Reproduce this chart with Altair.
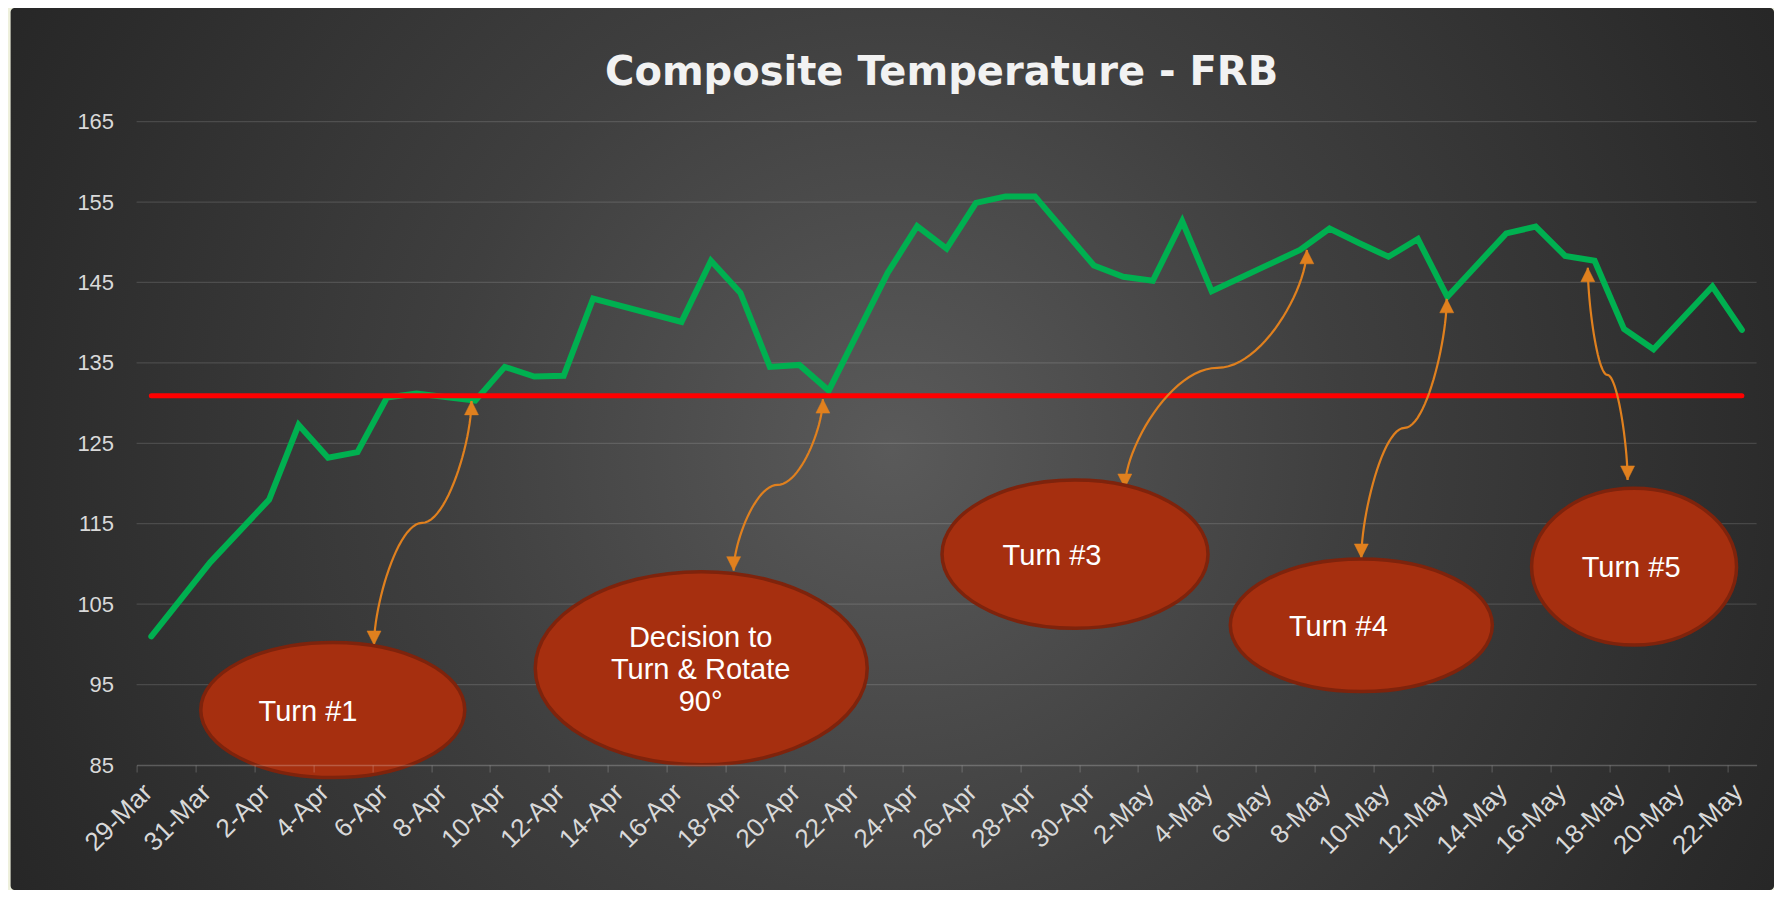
import json
import altair as alt
import pandas as pd

# ---------------- data ----------------
dates = ["29-Mar", "31-Mar", "2-Apr", "3-Apr", "4-Apr", "5-Apr", "6-Apr", "7-Apr",
         "9-Apr", "10-Apr", "11-Apr", "12-Apr", "13-Apr", "16-Apr", "17-Apr", "18-Apr",
         "19-Apr", "20-Apr", "21-Apr", "23-Apr", "24-Apr", "25-Apr", "26-Apr", "27-Apr",
         "28-Apr", "30-Apr", "1-May", "2-May", "3-May", "4-May", "7-May", "8-May",
         "9-May", "10-May", "11-May", "12-May", "14-May", "15-May", "16-May", "17-May",
         "18-May", "19-May", "21-May", "22-May"]
values = [101.0, 110.2, 118.0, 127.3, 123.2, 123.9, 130.7, 131.2,
          130.3, 134.5, 133.3, 133.4, 143.0, 140.1, 147.7, 143.7,
          134.5, 134.75, 131.55, 146.2, 152.0, 149.2, 154.9, 155.7,
          155.7, 147.1, 145.7, 145.2, 152.6, 143.9, 149.05, 151.7,
          149.9, 148.2, 150.4, 143.2, 151.1, 151.95, 148.3, 147.7,
          139.2, 136.7, 144.5, 139.1]

ref_dates = ["29-Mar", "22-May"]
ref_value = 130.9

x_tick_labels = ["29-Mar", "31-Mar", "2-Apr", "4-Apr", "6-Apr", "8-Apr", "10-Apr",
                 "12-Apr", "14-Apr", "16-Apr", "18-Apr", "20-Apr", "22-Apr", "24-Apr",
                 "26-Apr", "28-Apr", "30-Apr", "2-May", "4-May", "6-May", "8-May",
                 "10-May", "12-May", "14-May", "16-May", "18-May", "20-May", "22-May"]
y_ticks = [85, 95, 105, 115, 125, 135, 145, 155, 165]

title_text = "Composite Temperature - FRB"

# annotations, x in days since 29-Mar 00:00, y in temperature units
note_texts = ["Turn #1", "Decision to\nTurn & Rotate\n90°", "Turn #3", "Turn #4", "Turn #5"]
note_text_x = [5.82, 19.15, 31.08, 40.80, 50.74]
note_text_y = [91.63, 100.76, 111.03, 102.2, 109.54]
ellipse_x = [6.66, 19.17, 31.86, 41.58, 50.84]
ellipse_y = [91.84, 97.03, 111.22, 102.38, 109.66]

arrow_top_x = [11.37, 23.30, 39.73, 44.48, 49.27]
arrow_top_y = [130.27, 130.49, 149.05, 142.96, 146.82]
arrow_mid_x = [9.69, 21.76, 36.69, 43.05, 49.93]
arrow_mid_y = [115.1, 119.83, 134.38, 126.92, 133.51]
arrow_bot_x = [8.06, 20.27, 33.55, 41.58, 50.62]
arrow_bot_y = [99.93, 109.17, 119.45, 110.75, 120.45]

# ---------------- styles ----------------
W, H = 1620, 643.4
PAD = {"left": 128.6, "top": 113.6, "right": 17.4, "bottom": 125}
FONT = "Liberation Sans, Arial, sans-serif"
GREEN = "#00b050"
RED = "#ff0000"
ORANGE = "#e0801e"
ELL_FILL = "#a62f0f"
ELL_STROKE = "#7e230c"
ell_rx = [132, 166, 133, 131, 102.5]   # pixel radii of the callout ellipses
ell_ry = [67.6, 96.6, 74.2, 66.3, 78.3]
K_VERT, K_HORZ = 0.33, 0.5            # connector (curved elbow) handle lengths
N_SEG = 24

# ---------------- tables ----------------
START = pd.Timestamp("2020-03-29")


def day_of(lbl):
    return (pd.to_datetime(f"{lbl}-2020", format="%d-%b-%Y") - START).days


line_df = pd.DataFrame({"x": [day_of(d) + 0.5 for d in dates], "v": values})
ref_df = pd.DataFrame({"x": [day_of(d) + 0.5 for d in ref_dates], "v": [ref_value] * 2})
tick_x = [day_of(d) for d in x_tick_labels]
grid_df = pd.DataFrame({"v": y_ticks[1:]})
notes_df = pd.DataFrame({"x": note_text_x, "v": note_text_y, "t": note_texts})
title_df = pd.DataFrame({"t": [title_text]})


def cubic(p0, p1, p2, p3, n):
    out = []
    for j in range(n + 1):
        t = j / n
        a, b, c, d = (1 - t) ** 3, 3 * (1 - t) ** 2 * t, 3 * (1 - t) * t ** 2, t ** 3
        out.append((a * p0[0] + b * p1[0] + c * p2[0] + d * p3[0],
                    a * p0[1] + b * p1[1] + c * p2[1] + d * p3[1]))
    return out


arrow_rows = []
head_rows = []
for i in range(len(arrow_top_x)):
    A = (arrow_bot_x[i], arrow_bot_y[i])
    M = (arrow_mid_x[i], arrow_mid_y[i])
    B = (arrow_top_x[i], arrow_top_y[i])
    lower = cubic(A, (A[0], A[1] + K_VERT * (M[1] - A[1])),
                  (A[0] + K_HORZ * (M[0] - A[0]), M[1]), M, N_SEG)
    upper = cubic(M, (M[0] + K_HORZ * (B[0] - M[0]), M[1]),
                  (B[0], B[1] - K_VERT * (B[1] - M[1])), B, N_SEG)
    pts = lower + upper[1:]
    for s, (px, py) in enumerate(pts):
        arrow_rows.append({"id": i, "seq": s, "x": px, "v": py})
    head_rows.append({"x": B[0], "v": B[1], "dir": "up"})
    head_rows.append({"x": A[0], "v": A[1], "dir": "down"})
arrow_df = pd.DataFrame(arrow_rows)
head_df = pd.DataFrame(head_rows)

# ---------------- encodings ----------------
label_expr = json.dumps(x_tick_labels) + "[round(datum.value / 2)]"
xaxis = alt.Axis(values=tick_x, labelExpr=label_expr, labelAngle=315, labelAlign="right",
                 labelBaseline="middle", labelOffset=11, labelPadding=16,
                 labelFont=FONT, labelFontSize=26, labelColor="#d9d9d9",
                 tickSize=7, tickColor="#ffffff", tickOpacity=0.22,
                 domainColor="#ffffff", domainOpacity=0.22, domainWidth=1.5,
                 grid=False, title=None, zindex=1, labelFlush=False, labelOverlap=False)
yaxis = alt.Axis(values=y_ticks, labelFont=FONT, labelFontSize=22, labelColor="#d9d9d9",
                 labelPadding=23, domain=False, ticks=False, grid=False, title=None,
                 zindex=1, labelFlush=False, labelOverlap=False)
X = alt.X("x:Q", scale=alt.Scale(domain=[0, 55], nice=False, zero=False), axis=xaxis)
Y = alt.Y("v:Q", scale=alt.Scale(domain=[85, 165], nice=False, zero=False), axis=yaxis)

# ---------------- layers ----------------
bg_grad = alt.RadialGradient(
    gradient="radial", x1=0.5, y1=0.5, r1=0, x2=0.5, y2=0.5, r2=0.57,
    stops=[alt.GradientStop(offset=0, color="#5a5a5a"),
           alt.GradientStop(offset=0.45, color="#3f3f3f"),
           alt.GradientStop(offset=0.88, color="#2b2b2b"),
           alt.GradientStop(offset=1, color="#262626")])
background = alt.Chart(pd.DataFrame({"k": [0]})).mark_rect(
    fill=bg_grad, cornerRadius=4).encode(
    x=alt.value(-126), x2=alt.value(W + PAD["right"]),
    y=alt.value(-PAD["top"]), y2=alt.value(H + PAD["bottom"]))

title = alt.Chart(title_df).mark_text(
    font="DejaVu Sans", fontSize=40, fontWeight="bold", color="#f2f2f2",
    align="center", baseline="alphabetic").encode(
    x=alt.value(805), y=alt.value(-36.6), text="t:N")

grid = alt.Chart(grid_df).mark_rule(color="#ffffff", opacity=0.13, strokeWidth=1.3).encode(y=Y)

green = alt.Chart(line_df).mark_line(color=GREEN, strokeWidth=6, strokeCap="round").encode(x=X, y=Y)
red = alt.Chart(ref_df).mark_line(color=RED, strokeWidth=5, strokeCap="round").encode(x=X, y=Y)

arrows = alt.Chart(arrow_df).mark_line(color=ORANGE, strokeWidth=2.2).encode(
    x=X, y=Y, detail="id:N", order="seq:Q")
heads = alt.Chart(head_df).mark_point(filled=True, fill=ORANGE, stroke=ORANGE, strokeWidth=0.5,
                                      opacity=1, size=780).encode(
    x=X, y=Y,
    shape=alt.Shape("dir:N", scale=alt.Scale(domain=["up", "down"],
                                             range=["M0,0L0.5,1L-0.5,1Z", "M0,0L0.5,-1L-0.5,-1Z"]),
                    legend=None))


def ellipse_path(b):
    k = 0.5523
    return (f"M-1,0C-1,{-k*b:.4f} {-k:.4f},{-b:.4f} 0,{-b:.4f}"
            f"C{k:.4f},{-b:.4f} 1,{-k*b:.4f} 1,0"
            f"C1,{k*b:.4f} {k:.4f},{b:.4f} 0,{b:.4f}"
            f"C{-k:.4f},{b:.4f} -1,{k*b:.4f} -1,0Z")


ellipses = []
for i in range(len(ellipse_x)):
    e_df = pd.DataFrame({"x": [ellipse_x[i]], "v": [ellipse_y[i]]})
    ellipses.append(alt.Chart(e_df).mark_point(
        shape=ellipse_path(ell_ry[i] / ell_rx[i]), size=(2 * ell_rx[i]) ** 2,
        filled=True, fill=ELL_FILL, stroke=ELL_STROKE, strokeWidth=3.5,
        opacity=1, fillOpacity=1, strokeOpacity=1).encode(x=X, y=Y))

notes = alt.Chart(notes_df).mark_text(font=FONT, fontSize=29, color="#ffffff", align="center",
                                      baseline="middle", lineBreak="\n", lineHeight=32).encode(
    x=X, y=Y, text="t:N")

chart = alt.layer(background, title, grid, green, red, arrows, heads, *ellipses, notes).properties(
    width=W, height=H, padding=PAD, autosize=alt.AutoSizeParams(type="none"),
).configure(background="#eef0dc").configure_view(strokeWidth=0)

chart.save("out.html", embed_options={"renderer": "svg", "actions": False})
